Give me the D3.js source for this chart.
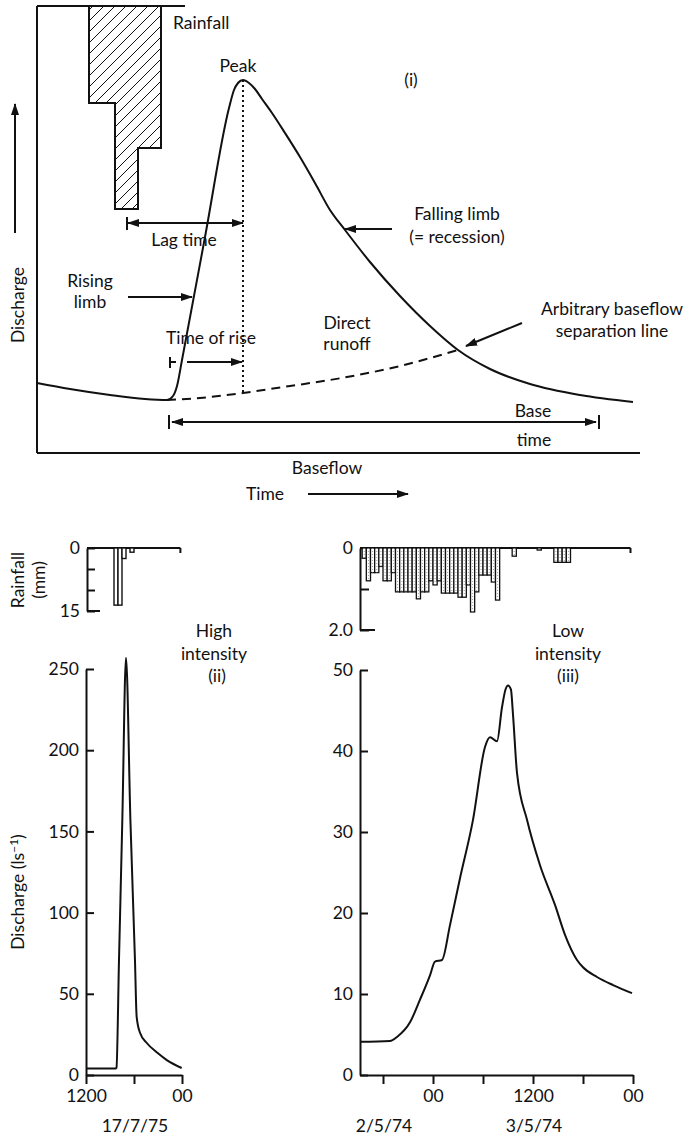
<!DOCTYPE html>
<html>
<head>
<meta charset="utf-8">
<script src="https://cdn.jsdelivr.net/npm/d3@7"></script>
<style>
body { margin: 0; background: #fff; }
text { font-family: Lato, "Open Sans", sans-serif; font-size: 17.5px; fill: #111; }
</style>
</head>
<body>
<div id="chart"></div>
<script>
// (i) idealised storm hydrograph, time 0-60 units, discharge 0-100 units
var hydT = [0, 3.3, 7.3, 10.8, 13, 13.6, 14, 14.5, 16.8, 19.2, 19.7, 20.1, 20.6, 21.2, 21.8, 22.5, 23.5, 24.8, 26.3, 27.8, 29.3, 30.8, 33.3, 36.3, 39.3, 42.1, 45.3, 49.3, 54.3, 59.6];
var hydQ = [14, 12.5, 11, 10, 9.75, 10.75, 13.25, 19.75, 50.5, 82.75, 87.25, 89, 89.75, 89, 87.5, 85, 81.5, 76.5, 70.5, 64, 57.25, 52.25, 44.25, 35.75, 28.25, 22.25, 17.5, 13.75, 11, 9.25];
var sepT = [13, 16.3, 20.6, 25.3, 29.3, 36.3, 42.1];
var sepQ = [9.75, 10.25, 11.5, 13.25, 14.75, 18.25, 22.25];
var rainEdges1 = [5.2, 7.8, 10.1, 12.4];
var rainDepth1 = [9.7, 20.3, 14.2];
var peakT = 20.6, peakQ = 89.75;

// (ii) high intensity storm, 17/7/75 (hours from 00 on 17/7)
var timeII = [12, 15.7, 15.81, 16.125, 16.54, 17.0, 17.55, 18.12, 18.33, 18.75, 19.6, 20.96, 22.1, 23.96];
var flowII = [4, 4, 4.5, 71, 157, 257, 157, 71, 36, 26, 19.7, 13.5, 9.2, 4.3];
var rainStartII = [15.5, 16.0, 16.5, 17.5];
var rainMmII = [13.6, 13.6, 2.5, 1.0];

// (iii) low intensity storm, 2-3/5/74 (hours from 00 on 3/5)
var timeIII = [-8.76, -5.16, -4.32, -2.76, -1.56, -0.36, 0.24, 1.08, 2.04, 3.24, 4.8, 6.24, 6.84, 7.68, 8.28, 8.7, 9.0, 9.35, 9.6, 10.08, 11.28, 12.84, 14.64, 15.84, 17.28, 18.0, 19.68, 21.6, 23.88];
var flowIII = [4.1, 4.2, 4.7, 6.5, 9.3, 12.3, 14.0, 14.2, 18.5, 24.3, 31.5, 40.5, 41.7, 41.2, 45.4, 47.6, 48.1, 47.6, 44.5, 37.3, 31.5, 25.9, 21.0, 17.3, 14.2, 13.3, 12.1, 11.1, 10.1];
var rainStartIII = [-8.5, -8.0, -7.5, -7.0, -6.5, -6.0, -5.5, -5.0, -4.5, -4.0, -3.5, -3.0, -2.5, -2.0, -1.5, -1.0, -0.5, 0.0, 0.5, 1.0, 1.5, 2.0, 2.5, 3.0, 3.5, 4.0, 4.5, 5.0, 5.5, 6.0, 6.5, 7.0, 7.5, 9.5, 12.5, 14.5, 15.0, 15.5, 16.0];
var rainMmIII = [0.25, 0.8, 0.6, 0.6, 0.45, 0.8, 0.8, 0.6, 1.07, 1.07, 1.07, 1.07, 1.07, 1.24, 1.07, 1.07, 0.8, 0.9, 0.8, 1.1, 1.1, 1.1, 1.1, 1.2, 1.2, 0.9, 1.56, 1.07, 0.66, 0.66, 0.66, 0.83, 1.27, 0.2, 0.05, 0.35, 0.35, 0.35, 0.35];

var ticksII = [12, 18, 24];
var tickLabII = ["1200", "", "00"];
var ticksIII = [-6, 0, 6, 12, 18, 24];
var tickLabIII = ["", "00", "", "1200", "", "00"];

var ink = "#111";
var svg = d3.select("#chart").append("svg")
    .attr("width", 686)
    .attr("height", 1138)
    .style("background", "#fff");

var defs = svg.append("defs");
defs.append("marker")
    .attr("id", "ah")
    .attr("viewBox", "0 0 12 8")
    .attr("refX", 11)
    .attr("refY", 4)
    .attr("markerWidth", 12)
    .attr("markerHeight", 8)
    .attr("markerUnits", "userSpaceOnUse")
    .attr("orient", "auto-start-reverse")
    .append("path")
    .attr("d", "M0,0L12,4L0,8Z")
    .attr("fill", ink);
var hatch = defs.append("pattern")
    .attr("id", "hatch")
    .attr("patternUnits", "userSpaceOnUse")
    .attr("width", 11)
    .attr("height", 11);
hatch.append("path")
    .attr("d", "M0,11L11,0M-5.5,5.5L5.5,-5.5M5.5,16.5L16.5,5.5")
    .attr("stroke", ink)
    .attr("stroke-width", 1);

function seg(g, x1, y1, x2, y2, w) {
    return g.append("line")
        .attr("x1", x1).attr("y1", y1).attr("x2", x2).attr("y2", y2)
        .attr("stroke", ink).attr("stroke-width", w || 2);
}
function arrow(g, x1, y1, x2, y2, both) {
    var l = seg(g, x1, y1, x2, y2, 2).attr("marker-end", "url(#ah)");
    if (both) l.attr("marker-start", "url(#ah)");
    return l;
}
function label(g, x, y, s, anchor) {
    return g.append("text").attr("x", x).attr("y", y)
        .attr("text-anchor", anchor || "middle").text(s);
}

// ---------- panel (i) ----------
var xI = d3.scaleLinear().domain([0, 60]).range([37, 637]);
var yI = d3.scaleLinear().domain([0, 100]).range([439, 39]);
var rI = d3.scaleLinear().domain([0, 25]).range([6, 256]);
var gI = svg.append("g");
var baseY = 453;

// hyetograph
var hyPts = [[rainEdges1[0], 0]];
rainDepth1.forEach(function (d, i) {
    hyPts.push([rainEdges1[i], d]);
    hyPts.push([rainEdges1[i + 1], d]);
});
hyPts.push([rainEdges1[rainEdges1.length - 1], 0]);
gI.append("path")
    .attr("d", d3.line().x(function (d) { return xI(d[0]); }).y(function (d) { return rI(d[1]); })(hyPts) + "Z")
    .attr("fill", "url(#hatch)")
    .attr("stroke", ink)
    .attr("stroke-width", 2);

// frame
seg(gI, xI(0), rI(0), xI(14.8), rI(0));
seg(gI, xI(0), rI(0), xI(0), baseY);
seg(gI, xI(0), baseY, xI(60.3), baseY);

// dotted peak line and dashed separation
gI.append("line")
    .attr("x1", xI(peakT)).attr("x2", xI(peakT))
    .attr("y1", yI(peakQ)).attr("y2", yI(sepQ[2]))
    .attr("stroke", ink).attr("stroke-width", 2).attr("stroke-dasharray", "2,3");
gI.append("path")
    .datum(sepT.map(function (t, i) { return [t, sepQ[i]]; }))
    .attr("d", d3.line().curve(d3.curveMonotoneX).x(function (d) { return xI(d[0]); }).y(function (d) { return yI(d[1]); }))
    .attr("fill", "none").attr("stroke", ink).attr("stroke-width", 2).attr("stroke-dasharray", "9,6");
gI.append("path")
    .datum(hydT.map(function (t, i) { return [t, hydQ[i]]; }))
    .attr("d", d3.line().curve(d3.curveMonotoneX).x(function (d) { return xI(d[0]); }).y(function (d) { return yI(d[1]); }))
    .attr("fill", "none").attr("stroke", ink).attr("stroke-width", 2);

// annotations
label(gI, 173, 29, "Rainfall", "start");
label(gI, 238, 72, "Peak");
label(gI, 411, 86, "(i)");
seg(gI, xI(9), 217, xI(9), 230);
arrow(gI, xI(9) + 1, 223, xI(peakT), 223, true);
label(gI, 184, 246, "Lag time");
label(gI, 90, 287, "Rising");
label(gI, 90, 308, "limb");
arrow(gI, 128, 297, 192, 297);
label(gI, 211, 344, "Time of rise");
seg(gI, xI(13.3), 357, xI(13.3), 368);
seg(gI, xI(13.3), 362, xI(13.3) + 6, 362);
arrow(gI, 187, 362, xI(peakT) - 1, 362);
label(gI, 347, 329, "Direct");
label(gI, 347, 350, "runoff");
label(gI, 457, 220, "Falling limb");
label(gI, 457, 243, "(= recession)");
arrow(gI, 392, 229, 345, 229);
label(gI, 612, 315, "Arbitrary baseflow");
label(gI, 612, 337, "separation line");
arrow(gI, 522, 323, 466, 346);
seg(gI, 169, 415, 169, 429);
seg(gI, 599, 415, 599, 429);
arrow(gI, 172, 422, 596, 422, true);
label(gI, 533, 417, "Base");
label(gI, 534, 446, "time");
label(gI, 327, 474, "Baseflow");
label(gI, 265, 500, "Time");
arrow(gI, 308, 494, 408, 494);
gI.append("text")
    .attr("transform", "translate(24,305) rotate(-90)")
    .attr("text-anchor", "middle")
    .text("Discharge");
arrow(gI, 15, 233, 15, 104);

// ---------- panel (ii) ----------
var xII = d3.scaleLinear().domain([12, 24]).range([86, 182]);
var yII = d3.scaleLinear().domain([0, 250]).range([1075, 669]);
var rII = d3.scaleLinear().domain([0, 15]).range([548, 611]);
var gII = svg.append("g");

gII.append("g").attr("transform", "translate(" + xII(12) + ",0)")
    .call(d3.axisLeft(yII).tickValues([0, 50, 100, 150, 200, 250]).tickSizeInner(-8).tickSizeOuter(0).tickPadding(7));
gII.append("g").attr("transform", "translate(0," + yII(0) + ")")
    .call(d3.axisBottom(xII).tickValues(ticksII).tickSize(9).tickSizeOuter(0).tickPadding(6)
        .tickFormat(function (d, i) { return tickLabII[i]; }));
gII.append("g").attr("transform", "translate(" + (xII(12) + 1) + ",0)")
    .call(d3.axisLeft(rII).tickValues([0, 5, 10, 15]).tickSizeInner(-8).tickSizeOuter(0).tickPadding(7)
        .tickFormat(function (d) { return (d === 0 || d === 15) ? d : ""; }));
seg(gII, xII(12) + 1, rII(15), xII(12) + 14, rII(15));
seg(gII, xII(12) + 1, rII(0), xII(23.8), rII(0));
seg(gII, xII(23.8), rII(0), xII(23.8), rII(0) + 5);

gII.selectAll(".rain")
    .data(rainStartII.map(function (t, i) { return [t, rainMmII[i]]; }))
    .enter().append("rect")
    .attr("x", function (d) { return xII(d[0]); })
    .attr("y", rII(0))
    .attr("width", function (d) { return xII(d[0] + 0.5) - xII(d[0]); })
    .attr("height", function (d) { return rII(d[1]) - rII(0); })
    .attr("fill", "#fff").attr("stroke", ink).attr("stroke-width", 1.4);

gII.append("path")
    .datum(timeII.map(function (t, i) { return [t, flowII[i]]; }))
    .attr("d", d3.line().curve(d3.curveMonotoneX).x(function (d) { return xII(d[0]); }).y(function (d) { return yII(d[1]); }))
    .attr("fill", "none").attr("stroke", ink).attr("stroke-width", 2);

label(gII, 135, 1132, "17/7/75");
label(gII, 214, 637, "High");
label(gII, 214, 660, "intensity");
label(gII, 217, 682, "(ii)");

// ---------- panel (iii) ----------
var xIII = d3.scaleLinear().domain([-8.76, 24]).range([360, 633]);
var yIII = d3.scaleLinear().domain([0, 50]).range([1075, 670]);
var rIII = d3.scaleLinear().domain([0, 2]).range([548, 630]);
var gIII = svg.append("g");

gIII.append("g").attr("transform", "translate(" + xIII(-8.76) + ",0)")
    .call(d3.axisLeft(yIII).tickValues([0, 10, 20, 30, 40, 50]).tickSizeInner(-8).tickSizeOuter(0).tickPadding(7));
gIII.append("g").attr("transform", "translate(0," + yIII(0) + ")")
    .call(d3.axisBottom(xIII).tickValues(ticksIII).tickSize(9).tickSizeOuter(0).tickPadding(6)
        .tickFormat(function (d, i) { return tickLabIII[i]; }));
gIII.append("g").attr("transform", "translate(" + xIII(-8.76) + ",0)")
    .call(d3.axisLeft(rIII).tickValues([0, 1, 2]).tickSizeInner(-9).tickSizeOuter(0).tickPadding(7)
        .tickFormat(function (d) { return d === 0 ? "0" : d === 2 ? "2.0" : ""; }));
seg(gIII, xIII(-8.76), rIII(2), xIII(-8.76) + 15, rIII(2));
seg(gIII, xIII(-8.76), rIII(0), xIII(23.7), rIII(0));
seg(gIII, xIII(23.7), rIII(0), xIII(23.7), rIII(0) + 5);

var bars3 = gIII.selectAll(".rain")
    .data(rainStartIII.map(function (t, i) { return [t, rainMmIII[i]]; }))
    .enter().append("g");
bars3.append("rect")
    .attr("x", function (d) { return xIII(d[0]); })
    .attr("y", rIII(0))
    .attr("width", function (d) { return xIII(d[0] + 0.5) - xIII(d[0]); })
    .attr("height", function (d) { return rIII(d[1]) - rIII(0); })
    .attr("fill", "#fff").attr("stroke", ink).attr("stroke-width", 1.3);
bars3.append("line")
    .attr("x1", function (d) { return xIII(d[0] + 0.25); })
    .attr("x2", function (d) { return xIII(d[0] + 0.25); })
    .attr("y1", rIII(0))
    .attr("y2", function (d) { return rIII(d[1]); })
    .attr("stroke", "#888").attr("stroke-width", 0.8).attr("stroke-dasharray", "1,2");

gIII.append("path")
    .datum(timeIII.map(function (t, i) { return [t, flowIII[i]]; }))
    .attr("d", d3.line().curve(d3.curveMonotoneX).x(function (d) { return xIII(d[0]); }).y(function (d) { return yIII(d[1]); }))
    .attr("fill", "none").attr("stroke", ink).attr("stroke-width", 2);

label(gIII, 384, 1132, "2/5/74");
label(gIII, 534, 1132, "3/5/74");
label(gIII, 568, 637, "Low");
label(gIII, 568, 660, "intensity");
label(gIII, 568, 682, "(iii)");

// shared axis titles
svg.append("text")
    .attr("transform", "translate(24,580) rotate(-90)")
    .attr("text-anchor", "middle")
    .text("Rainfall");
svg.append("text")
    .attr("transform", "translate(45,580) rotate(-90)")
    .attr("text-anchor", "middle")
    .text("(mm)");
var dq = svg.append("text")
    .attr("transform", "translate(24,892) rotate(-90)")
    .attr("text-anchor", "middle");
dq.append("tspan").text("Discharge (ls");
dq.append("tspan").attr("dy", -6).attr("font-size", "12px").text("\u22121");
dq.append("tspan").attr("dy", 6).text(")");

// axis styling
svg.selectAll(".domain").attr("stroke", ink).attr("stroke-width", 2);
svg.selectAll(".tick line").attr("stroke", ink).attr("stroke-width", 2);
svg.selectAll(".tick text").attr("font-family", "Lato, 'Open Sans', sans-serif").attr("font-size", "17.5px").attr("fill", ink);
</script>
</body>
</html>
